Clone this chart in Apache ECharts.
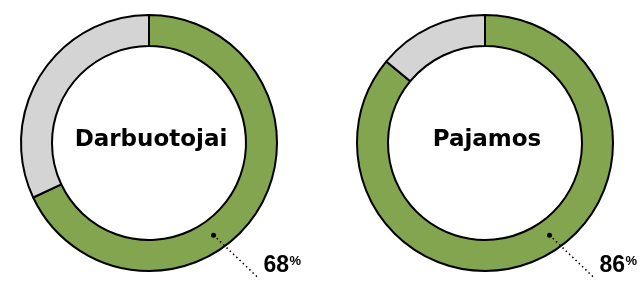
<!DOCTYPE html>
<html>
<head>
<meta charset="utf-8">
<script src="https://cdn.jsdelivr.net/npm/echarts@6/dist/echarts.min.js"></script>
<style>
    html, body { margin: 0; padding: 0; background: #fff; }
    #chart { width: 642px; height: 281px; }
</style>
</head>
<body>
<div id="chart"></div>
<script>
// duomenys
var names = ['Darbuotojai', 'Pajamos'];
var shares = [68, 86];
var rests = [32, 14];

var green = '#84a550',
    grey = '#d4d4d4';

// išdėstymas
var centers = [[149, 143], [485, 143]];
var radius = [97, 128];
var calloutAngle = 145; // laipsniai nuo viršaus, pagal laikrodžio rodyklę

var chart = echarts.init(document.getElementById('chart'));

var series = [];
var graphics = [];

names.forEach(function (name, i) {
    series.push({
        type: 'pie',
        center: centers[i],
        radius: radius,
        startAngle: 90,
        clockwise: true,
        silent: true,
        label: { show: false },
        labelLine: { show: false },
        emphasis: { disabled: true },
        itemStyle: {
            borderColor: '#000',
            borderWidth: 2
        },
        data: [{
            value: shares[i],
            name: name,
            itemStyle: { color: green },
            label: {
                show: true,
                position: 'center',
                formatter: '{b}',
                fontSize: 23,
                fontWeight: 'bold',
                fontFamily: 'DejaVu Sans',
                color: '#000',
                offset: [2, -3]
            }
        }, {
            value: rests[i],
            name: '',
            itemStyle: { color: grey }
        }]
    });

    //taškas ir punktyrinė linija
    var a = calloutAngle * Math.PI / 180;
    var mid = (radius[0] + radius[1]) / 2;
    var dx = centers[i][0] + Math.sin(a) * mid;
    var dy = centers[i][1] - Math.cos(a) * mid;

    graphics.push({
        type: 'polyline',
        silent: true,
        z: 10,
        shape: { points: [[dx, dy], [dx + 44, dy + 42]] },
        style: { stroke: '#000', lineWidth: 1.5, lineDash: [1.5, 3], fill: null }
    });
    graphics.push({
        type: 'circle',
        silent: true,
        z: 10,
        shape: { cx: dx, cy: dy, r: 2.5 },
        style: { fill: '#000' }
    });
    graphics.push({
        type: 'text',
        silent: true,
        z: 10,
        x: dx + 50,
        y: dy + 31,
        style: {
            text: String(shares[i]),
            fill: '#000',
            font: 'bold 23px "Liberation Sans", Arial, sans-serif',
            textAlign: 'left',
            textVerticalAlign: 'middle'
        }
    });
    graphics.push({
        type: 'text',
        silent: true,
        z: 10,
        x: dx + 76,
        y: dy + 26,
        style: {
            text: '%',
            fill: '#000',
            font: 'bold 13px "Liberation Sans", Arial, sans-serif',
            textAlign: 'left',
            textVerticalAlign: 'middle'
        }
    });
});

var option = {
    animation: false,
    series: series,
    graphic: graphics
};
chart.setOption(option);
</script>
</body>
</html>
